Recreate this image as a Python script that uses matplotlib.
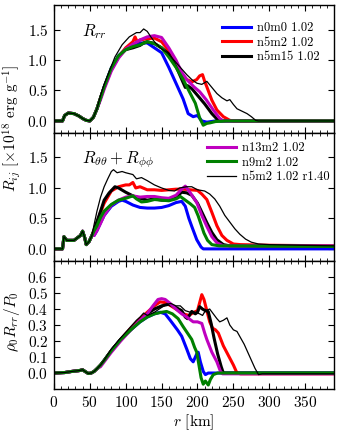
import numpy as np
import matplotlib
matplotlib.use("Agg")
import matplotlib.pyplot as plt
from matplotlib.ticker import MultipleLocator

plt.rcParams["font.family"] = "cmr10"
plt.rcParams["mathtext.fontset"] = "cm"
plt.rcParams["axes.formatter.use_mathtext"] = True

labels = ["n0m0 1.02", "n5m2 1.02", "n5m15 1.02", "n13m2 1.02", "n9m2 1.02", "n5m2 1.02 r1.40"]

# ---- top panel: R_rr ----
rr_early_r = [0, 12, 15, 20, 28, 35, 40, 45, 50, 55, 60]
rr_early_v = [0, 0, 0.09, 0.13, 0.12, 0.08, 0.04, 0.01, 0.0, 0.06, 0.2]

rr_blue_r = [65, 70, 80, 90, 100, 110, 120, 130, 140, 150, 160, 170, 180, 187, 194, 200, 206, 213, 225, 390]
rr_blue_v = [0.38, 0.56, 0.87, 1.07, 1.18, 1.22, 1.28, 1.28, 1.2, 1.12, 0.88, 0.62, 0.36, 0.12, 0.07, 0.09, 0.0, -0.02, 0.0, 0.0]
rr_red_r = [65, 70, 80, 90, 100, 110, 113, 116, 120, 130, 140, 150, 160, 167, 176, 185, 192, 199, 203, 207, 210, 213, 220, 227, 236, 245, 250, 390]
rr_red_v = [0.38, 0.55, 0.85, 1.05, 1.2, 1.3, 1.38, 1.3, 1.33, 1.35, 1.36, 1.3, 1.15, 1.0, 0.8, 0.68, 0.64, 0.68, 0.74, 0.76, 0.65, 0.56, 0.34, 0.18, 0.07, 0.01, 0.0, 0.0]
rr_black_r = [65, 70, 80, 90, 100, 110, 115, 120, 125, 130, 140, 150, 160, 170, 180, 183, 186, 192, 200, 210, 220, 228, 232, 390]
rr_black_v = [0.38, 0.55, 0.85, 1.05, 1.17, 1.2, 1.22, 1.24, 1.28, 1.3, 1.27, 1.2, 1.1, 0.9, 0.63, 0.55, 0.58, 0.53, 0.42, 0.28, 0.12, 0.02, 0.0, 0.0]
rr_mag_r = [65, 70, 80, 90, 100, 110, 120, 130, 140, 150, 160, 170, 178, 185, 195, 203, 212, 222, 231, 236, 390]
rr_mag_v = [0.35, 0.52, 0.82, 1.03, 1.18, 1.26, 1.33, 1.38, 1.4, 1.37, 1.2, 1.0, 0.8, 0.68, 0.56, 0.48, 0.35, 0.18, 0.04, 0.0, 0.0]
rr_green_r = [65, 70, 80, 90, 100, 110, 120, 130, 140, 150, 160, 170, 180, 190, 197, 203, 208, 213, 218, 225, 240, 390]
rr_green_v = [0.38, 0.56, 0.87, 1.07, 1.17, 1.22, 1.25, 1.3, 1.27, 1.2, 1.05, 0.88, 0.68, 0.45, 0.29, 0.05, -0.07, -0.04, -0.03, -0.01, 0.0, 0.0]
rr_thin_r = [65, 70, 78, 85, 95, 105, 115, 120, 125, 130, 135, 140, 148, 158, 167, 176, 185, 192, 199, 206, 213, 220, 227, 234, 241, 245, 250, 255, 262, 269, 275, 281, 285, 390]
rr_thin_v = [0.42, 0.6, 0.84, 1.05, 1.25, 1.38, 1.45, 1.45, 1.51, 1.47, 1.38, 1.3, 1.2, 1.12, 1.0, 0.88, 0.76, 0.68, 0.62, 0.6, 0.65, 0.55, 0.45, 0.38, 0.33, 0.35, 0.27, 0.2, 0.16, 0.12, 0.07, 0.01, 0.0, 0.0]

# ---- middle panel: R_thth + R_phph ----
tt_early_r = [0, 12, 14, 18, 28, 37, 40, 43, 45, 49, 53]
tt_early_v = [0, 0, 0.2, 0.14, 0.14, 0.22, 0.29, 0.18, 0.07, 0.12, 0.22]

tt_blue_r = [56, 60, 65, 70, 80, 90, 95, 100, 110, 120, 130, 140, 150, 160, 170, 178, 183, 188, 192, 199, 205, 208, 390]
tt_blue_v = [0.22, 0.3, 0.43, 0.55, 0.7, 0.78, 0.8, 0.78, 0.72, 0.68, 0.67, 0.67, 0.68, 0.71, 0.76, 0.78, 0.7, 0.5, 0.37, 0.15, 0.03, 0.0, 0.0]
tt_red_r = [56, 60, 65, 70, 80, 90, 100, 105, 110, 114, 120, 130, 140, 150, 160, 170, 180, 190, 200, 206, 213, 220, 227, 234, 241, 250, 260, 300, 390]
tt_red_v = [0.3, 0.42, 0.6, 0.75, 0.95, 1.02, 1.05, 1.05, 1.09, 1.0, 1.02, 0.97, 0.97, 0.96, 0.97, 0.98, 0.98, 0.97, 0.96, 0.9, 0.81, 0.6, 0.38, 0.22, 0.14, 0.08, 0.07, 0.06, 0.05]
tt_black_r = [56, 60, 65, 70, 77, 85, 90, 100, 110, 120, 130, 140, 150, 160, 170, 178, 185, 192, 200, 207, 213, 220, 227, 236, 245, 390]
tt_black_v = [0.32, 0.45, 0.62, 0.8, 0.92, 1.02, 1.0, 0.93, 0.87, 0.83, 0.8, 0.82, 0.8, 0.8, 0.85, 0.93, 0.92, 0.88, 0.75, 0.58, 0.43, 0.27, 0.15, 0.07, 0.05, 0.04]
tt_mag_r = [56, 60, 65, 70, 80, 90, 100, 110, 120, 130, 140, 150, 160, 170, 178, 183, 190, 199, 206, 213, 220, 227, 236, 390]
tt_mag_v = [0.22, 0.3, 0.42, 0.55, 0.72, 0.8, 0.85, 0.87, 0.85, 0.86, 0.86, 0.84, 0.83, 0.88, 0.98, 1.03, 0.92, 0.76, 0.55, 0.37, 0.2, 0.1, 0.05, 0.05]
tt_green_r = [56, 60, 65, 70, 80, 90, 100, 110, 115, 122, 130, 140, 150, 160, 170, 176, 183, 190, 196, 201, 205, 209, 214, 220, 230, 390]
tt_green_v = [0.3, 0.38, 0.52, 0.62, 0.73, 0.8, 0.83, 0.87, 0.82, 0.77, 0.78, 0.81, 0.8, 0.79, 0.82, 0.86, 0.8, 0.74, 0.68, 0.54, 0.4, 0.26, 0.14, 0.07, 0.05, 0.04]
tt_thin_r = [56, 60, 65, 70, 75, 80, 83, 88, 95, 100, 110, 115, 122, 130, 140, 150, 160, 168, 175, 185, 192, 200, 210, 217, 224, 231, 238, 245, 252, 259, 267, 275, 285, 300, 340, 390]
tt_thin_v = [0.4, 0.62, 0.85, 1.02, 1.15, 1.27, 1.3, 1.25, 1.27, 1.25, 1.22, 1.15, 1.17, 1.12, 1.05, 1.0, 0.96, 0.95, 1.0, 1.02, 1.02, 0.97, 0.95, 0.9, 0.82, 0.7, 0.55, 0.44, 0.33, 0.24, 0.16, 0.11, 0.08, 0.07, 0.06, 0.05]

# ---- bottom panel: rho0 R_rr / P0 ----
pr_early_r = [0, 15, 25, 35, 40, 44, 48, 52, 56, 60]
pr_early_v = [0, 0.003, 0.01, 0.015, 0.02, 0.008, -0.003, 0.0, 0.01, 0.027]

pr_blue_r = [65, 70, 80, 93, 107, 120, 130, 140, 148, 155, 162, 167, 172, 178, 185, 190, 194, 199, 201, 204, 208, 211, 215, 390]
pr_blue_v = [0.05, 0.08, 0.14, 0.21, 0.27, 0.32, 0.35, 0.37, 0.38, 0.37, 0.33, 0.3, 0.27, 0.23, 0.15, 0.09, 0.07, 0.12, 0.13, 0.07, 0.01, -0.01, 0.0, 0.0]
pr_red_r = [65, 70, 80, 93, 107, 120, 130, 140, 148, 155, 163, 170, 180, 188, 195, 200, 203, 206, 209, 213, 217, 221, 225, 229, 236, 243, 250, 255, 260, 390]
pr_red_v = [0.05, 0.078, 0.14, 0.21, 0.28, 0.34, 0.38, 0.42, 0.445, 0.44, 0.42, 0.4, 0.37, 0.36, 0.38, 0.39, 0.44, 0.49, 0.46, 0.39, 0.32, 0.28, 0.27, 0.25, 0.17, 0.11, 0.05, 0.0, -0.005, -0.005]
pr_black_r = [65, 70, 80, 93, 107, 120, 130, 140, 150, 160, 170, 178, 183, 186, 192, 197, 200, 203, 207, 211, 215, 219, 223, 228, 233, 236, 390]
pr_black_v = [0.05, 0.078, 0.14, 0.21, 0.27, 0.33, 0.37, 0.4, 0.42, 0.43, 0.41, 0.39, 0.35, 0.34, 0.385, 0.37, 0.38, 0.415, 0.4, 0.39, 0.384, 0.31, 0.22, 0.12, 0.04, 0.0, 0.0]
pr_mag_r = [65, 70, 80, 93, 107, 120, 130, 138, 145, 150, 155, 162, 170, 178, 185, 194, 200, 206, 210, 213, 220, 227, 232, 235, 390]
pr_mag_v = [0.04, 0.07, 0.13, 0.2, 0.27, 0.33, 0.37, 0.42, 0.46, 0.465, 0.46, 0.435, 0.4, 0.37, 0.35, 0.32, 0.32, 0.31, 0.25, 0.21, 0.13, 0.07, 0.01, -0.005, -0.005]
pr_green_r = [65, 70, 80, 93, 107, 120, 130, 140, 150, 157, 165, 173, 180, 186, 192, 196, 199, 202, 205, 208, 211, 215, 218, 222, 228, 390]
pr_green_v = [0.05, 0.078, 0.14, 0.21, 0.27, 0.32, 0.35, 0.37, 0.38, 0.385, 0.37, 0.34, 0.29, 0.25, 0.21, 0.16, 0.13, 0.05, -0.03, -0.07, -0.05, -0.075, -0.04, -0.01, 0.0, 0.0]
pr_thin_r = [65, 70, 80, 93, 107, 115, 120, 125, 130, 140, 150, 157, 163, 170, 176, 183, 190, 197, 203, 207, 211, 217, 222, 227, 231, 236, 241, 245, 250, 255, 260, 265, 270, 275, 280, 285, 290, 390]
pr_thin_v = [0.05, 0.08, 0.15, 0.22, 0.29, 0.33, 0.35, 0.375, 0.36, 0.38, 0.41, 0.43, 0.435, 0.42, 0.42, 0.39, 0.38, 0.38, 0.37, 0.36, 0.39, 0.4, 0.37, 0.34, 0.32, 0.33, 0.345, 0.3, 0.27, 0.26, 0.22, 0.18, 0.13, 0.08, 0.03, -0.01, -0.005, -0.005]

colors = ["#0000ff", "#ff0000", "k", "#bf00bf", "#008000", "k"]
widths = [2.2, 2.2, 2.2, 2.2, 2.2, 0.9]

panels = [
    (rr_early_r, rr_early_v, [(rr_blue_r, rr_blue_v), (rr_red_r, rr_red_v), (rr_black_r, rr_black_v),
                              (rr_mag_r, rr_mag_v), (rr_green_r, rr_green_v), (rr_thin_r, rr_thin_v)]),
    (tt_early_r, tt_early_v, [(tt_blue_r, tt_blue_v), (tt_red_r, tt_red_v), (tt_black_r, tt_black_v),
                              (tt_mag_r, tt_mag_v), (tt_green_r, tt_green_v), (tt_thin_r, tt_thin_v)]),
    (pr_early_r, pr_early_v, [(pr_blue_r, pr_blue_v), (pr_red_r, pr_red_v), (pr_black_r, pr_black_v),
                              (pr_mag_r, pr_mag_v), (pr_green_r, pr_green_v), (pr_thin_r, pr_thin_v)]),
]

fig = plt.figure(figsize=(3.39, 4.32), dpi=100)
gs = fig.add_gridspec(3, 1, left=0.159, right=0.985, top=0.988, bottom=0.0995, hspace=0)
axes = [fig.add_subplot(gs[i]) for i in range(3)]

fontsize = 11
for ax, (er, ev, curves) in zip(axes, panels):
    lines = []
    for (cr, cv), c, lw in zip(curves, colors, widths):
        l, = ax.plot(er + cr, ev + cv, color=c, lw=lw)
        lines.append(l)
    ax.set_xlim(0, 390)
    ax.xaxis.set_major_locator(MultipleLocator(50))
    ax.xaxis.set_minor_locator(MultipleLocator(10))
    ax.tick_params(which="both", direction="in", top=True, right=True, labelsize=fontsize, pad=4)
    ax.tick_params(which="major", length=4.5, width=0.8)
    ax.tick_params(which="minor", length=2.5, width=0.6)
    for s in ax.spines.values():
        s.set_linewidth(1.0)
    ax.panel_lines = lines

for ax in axes[:2]:
    ax.set_ylim(-0.2, 1.9)
    ax.yaxis.set_major_locator(MultipleLocator(0.5))
    ax.tick_params(labelbottom=False)
axes[2].set_ylim(-0.1, 0.7)
axes[2].set_yticks([0.0, 0.1, 0.2, 0.3, 0.4, 0.5, 0.6])
axes[2].set_xticks([0, 50, 100, 150, 200, 250, 300, 350])

l0 = axes[0].panel_lines
axes[0].legend(l0[:3], labels[:3], loc="upper right", bbox_to_anchor=(0.95, 0.87), frameon=False,
               fontsize=9, handlelength=2.3, labelspacing=0.2, handletextpad=0.5, borderaxespad=0.0,
               borderpad=0.0)
l1 = axes[1].panel_lines
axes[1].legend(l1[3:], labels[3:], loc="upper right", bbox_to_anchor=(0.985, 0.93), frameon=False,
               fontsize=9, handlelength=2.3, labelspacing=0.2, handletextpad=0.5, borderaxespad=0.0,
               borderpad=0.0)

axes[0].text(0.1, 0.79, r"$R_{rr}$", transform=axes[0].transAxes, fontsize=12, va="center")
axes[1].text(0.1, 0.79, r"$R_{\theta\theta}+R_{\phi\phi}$", transform=axes[1].transAxes, fontsize=12, va="center")

fig.text(0.035, 1 - 128 / 432, r"$R_{ij}$ [$\times10^{18}$ erg g$^{-1}$]", rotation=90,
         ha="center", va="center", fontsize=fontsize)
fig.text(0.035, 1 - 322 / 432, r"$\rho_0 R_{rr}/P_0$", rotation=90,
         ha="center", va="center", fontsize=fontsize)
axes[2].set_xlabel(r"$r$ [km]", fontsize=fontsize, labelpad=2)

fig.savefig("out.png", dpi=100)
